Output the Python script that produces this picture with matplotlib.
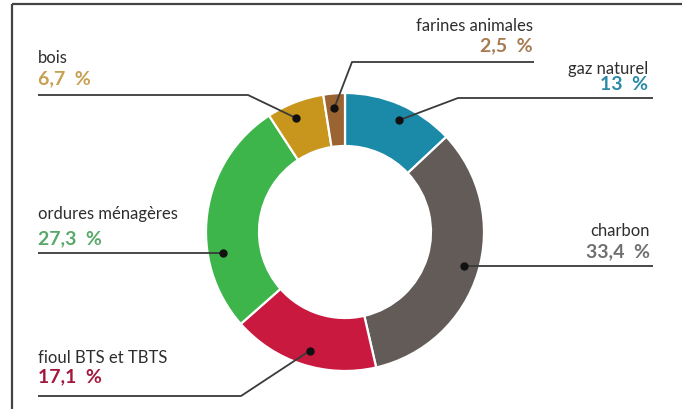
import matplotlib.pyplot as plt
import numpy as np

labels = ["gaz naturel", "charbon", "fioul BTS et TBTS", "ordures ménagères", "bois", "farines animales"]
values = [13, 33.4, 17.1, 27.3, 6.7, 2.5]
pct_labels = ["13  %", "33,4  %", "17,1  %", "27,3  %", "6,7  %", "2,5  %"]
colors = ["#1b8aa8", "#625b58", "#c9193f", "#3db54a", "#c8961c", "#9a6432"]
pct_colors = ["#2a8aa8", "#707070", "#a3173f", "#5aa869", "#c6a050", "#a67b52"]

# layout in pixel units (y grows downward)
cx, cy, r_out, ring = 345, 233, 139, 53
dot_frac = [0.55, 0.49, 0.48, 0.32, 0.41, 0.44]
dot_r = 124
elbows = [(458, 99), None, (241, 397), None, (248, 96), (352, 63)]
line_ends = [653, 653, 38, 38, 38, 534]
text_x = [648, 650, 38, 38, 38, 533]
name_y = [74, 236, 363, 219, 63, 31]
pct_y = [90, 257, 382, 244, 84, 51]
align = ["right", "right", "left", "left", "left", "right"]

fig = plt.figure(figsize=(6.82, 4.10), dpi=100)
ax = fig.add_axes([0, 0, 1, 1])

wedges, _ = ax.pie(values, colors=colors, startangle=-90, counterclock=True,
                   center=(cx, cy), radius=r_out,
                   wedgeprops=dict(width=ring, edgecolor="white", linewidth=1.6))

ax.set_xlim(0, 682)
ax.set_ylim(410, 0)
ax.set_aspect("equal")
ax.axis("off")

for i, w in enumerate(wedges):
    th = np.radians(w.theta1 + dot_frac[i] * (w.theta2 - w.theta1))
    dx, dy = cx + dot_r * np.cos(th), cy + dot_r * np.sin(th)
    if elbows[i] is None:
        xs, ys = [dx, line_ends[i]], [dy, dy]
    else:
        ex, ey = elbows[i]
        xs, ys = [dx, ex, line_ends[i]], [dy, ey, ey]
    ax.plot(xs, ys, color="#3a3a3a", lw=1.3, solid_capstyle="butt", zorder=3)
    ax.plot(dx, dy, "o", color="#111111", ms=5, zorder=4)

    ax.text(text_x[i], name_y[i], labels[i], ha=align[i], va="baseline",
            fontsize=12, family="Lato", color="#2e2e2e")
    ax.text(text_x[i], pct_y[i], pct_labels[i], ha=align[i], va="baseline",
            fontsize=14, family="Lato", fontweight="bold", color=pct_colors[i])

# frame along the top and left edges
ax.plot([11.5, 682], [5, 5], color="#444444", lw=1.6, solid_capstyle="butt")
ax.plot([11.5, 11.5], [5, 410], color="#444444", lw=1.6, solid_capstyle="butt")

fig.savefig("out.png", dpi=100)
